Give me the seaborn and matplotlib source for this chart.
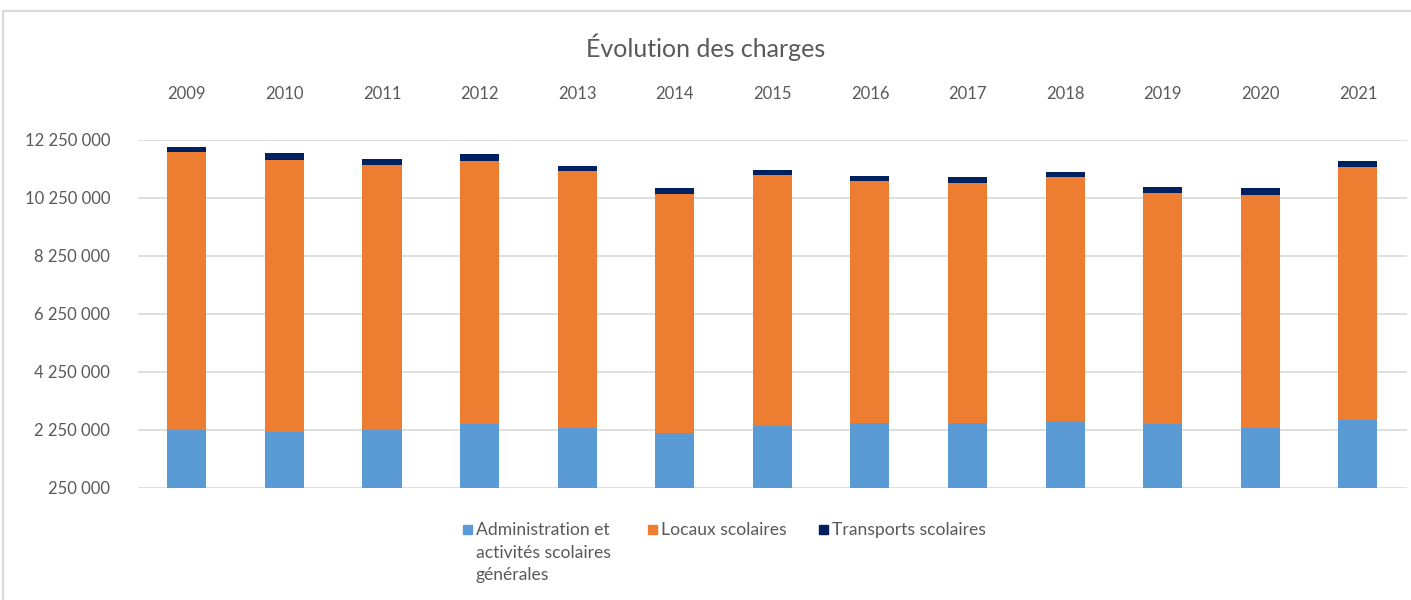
import numpy as np
import pandas as pd
import matplotlib.pyplot as plt
import seaborn as sns
from matplotlib.patches import Rectangle
from matplotlib.ticker import FuncFormatter

# données
annees = ["2009", "2010", "2011", "2012", "2013", "2014", "2015",
          "2016", "2017", "2018", "2019", "2020", "2021"]
administration = [2250000, 2180000, 2250000, 2470000, 2320000, 2140000, 2400000,
                  2490000, 2490000, 2560000, 2470000, 2320000, 2610000]
locaux = [9580000, 9390000, 9150000, 9070000, 8860000, 8260000, 8630000,
          8340000, 8290000, 8400000, 7960000, 8040000, 8720000]
transports = [180000, 220000, 200000, 220000, 180000, 180000, 190000,
              180000, 180000, 190000, 190000, 220000, 190000]

bleu = "#5B9BD5"
orange = "#ED7D31"
marine = "#002060"
gris_txt = "#595959"

df = pd.DataFrame({"annee": annees, "admin": administration,
                   "locaux": locaux, "transports": transports})
df["cum2"] = df.admin + df.locaux
df["cum3"] = df.cum2 + df.transports

sns.set_style("white")
plt.rcParams["font.family"] = ["Lato", "DejaVu Sans"]

fig = plt.figure(figsize=(14.11, 6), dpi=100)
ax = fig.add_axes([0.0978, 0.1867, 0.8992, 0.58])

# empilement : on dessine les cumuls du plus grand au plus petit
sns.barplot(data=df, x="annee", y="cum3", color=marine, width=0.4,
            saturation=1, linewidth=0, ax=ax)
sns.barplot(data=df, x="annee", y="cum2", color=orange, width=0.4,
            saturation=1, linewidth=0, ax=ax)
sns.barplot(data=df, x="annee", y="admin", color=bleu, width=0.4,
            saturation=1, linewidth=0, ax=ax)

ax.set_ylim(250000, 12250000)
ax.set_yticks(np.arange(250000, 12250001, 2000000))
ax.yaxis.set_major_formatter(FuncFormatter(lambda v, p: f"{int(v):,}".replace(",", " ")))
ax.set_xlim(-0.5, 12.5)
ax.grid(axis="y", color="#D9D9D9", linewidth=1.2)
ax.set_axisbelow(True)
for s in ax.spines.values():
    s.set_visible(False)
ax.xaxis.tick_top()
ax.tick_params(axis="x", length=0, pad=27.5, labelsize=12, labelcolor=gris_txt)
ax.tick_params(axis="y", length=0, pad=20, labelsize=12, labelcolor=gris_txt)
ax.set_xlabel("")
ax.set_ylabel("")

fig.text(0.5, 0.922, "Évolution des charges", ha="center", va="center",
         fontsize=18, color=gris_txt)

# légende faite à la main (texte sur plusieurs lignes, carré en haut)
labels = ["Administration et\nactivités scolaires\ngénérales",
          "Locaux scolaires", "Transports scolaires"]
couleurs = [bleu, orange, marine]
x_carre = [463, 648, 819]
for xc, lab, c in zip(x_carre, labels, couleurs):
    fig.patches.append(Rectangle((xc / 1411, 1 - 534 / 600), 9 / 1411, 9 / 600,
                                 transform=fig.transFigure, color=c))
    fig.text((xc + 13) / 1411, 1 - 522 / 600, lab, ha="left", va="top",
             fontsize=12.6, color=gris_txt, linespacing=1.5)

# cadre extérieur du graphique
fig.patches.append(Rectangle((0.002, -0.01), 1.1, 0.992, transform=fig.transFigure,
                             fill=False, edgecolor="#D9D9D9", linewidth=1.5))

fig.savefig("out.png", dpi=100)
